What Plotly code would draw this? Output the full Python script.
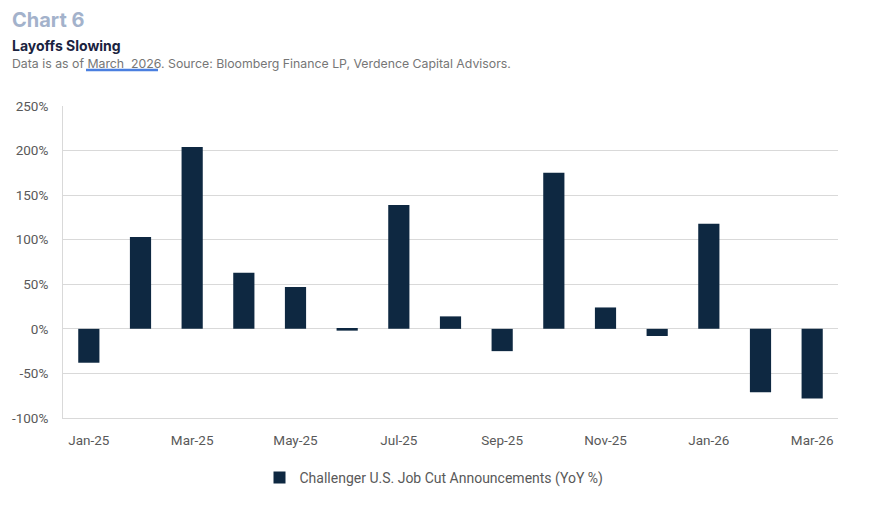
import plotly.graph_objects as go

months = ["Jan-25", "Feb-25", "Mar-25", "Apr-25", "May-25", "Jun-25", "Jul-25", "Aug-25",
          "Sep-25", "Oct-25", "Nov-25", "Dec-25", "Jan-26", "Feb-26", "Mar-26"]
yoy = [-38, 103, 204, 63, 47, -2, 139, 14, -25, 175, 24, -8, 118, -71, -78]
tick_labels = ["Jan-25", "Mar-25", "May-25", "Jul-25", "Sep-25", "Nov-25", "Jan-26", "Mar-26"]
y_ticks = [-100, -50, 0, 50, 100, 150, 200, 250]
y_tick_labels = ["-100%", "-50%", "0%", "50%", "100%", "150%", "200%", "250%"]
series_name = "Challenger U.S. Job Cut Announcements (YoY %)"

FONT = "Roboto, sans-serif"
NAVY = "#0e2841"

L, T, PW, PH = 63, 106, 775, 312


def px(x):
    return (x - L) / PW


def py(y):
    return 1 + (T - y) / PH


fig = go.Figure()
fig.add_trace(go.Bar(x=months, y=yoy, name=series_name, marker_color=NAVY,
                     marker_line_width=0, width=0.41))

fig.update_layout(
    width=888, height=519,
    margin=dict(l=L, r=888 - L - PW, t=T, b=519 - T - PH, autoexpand=False),
    paper_bgcolor="white", plot_bgcolor="white",
    font=dict(family=FONT, color="#595959", size=13),
    showlegend=True,
    legend=dict(orientation="h", x=px(434), xanchor="center", y=py(478), yanchor="middle",
                itemwidth=30, font=dict(family=FONT, size=14, color="#595959")),
    xaxis=dict(type="category", tickmode="array", tickvals=tick_labels, ticktext=tick_labels,
               showgrid=False, showline=True, linecolor="#d9d9d9", linewidth=1,
               ticks="", tickfont=dict(size=13.5), ticklabelstandoff=10),
    yaxis=dict(range=[-100, 250], tickmode="array", tickvals=y_ticks, ticktext=y_tick_labels,
               showgrid=True,
               gridcolor="#d9d9d9", gridwidth=1, zeroline=True, zerolinecolor="#d9d9d9",
               zerolinewidth=1, showline=True, linecolor="#d9d9d9", linewidth=1,
               ticks="", tickfont=dict(size=13.5), ticklabelstandoff=11),
    annotations=[
        dict(text="<b>Chart 6</b>", xref="paper", yref="paper", x=px(10), y=py(20),
             xanchor="left", yanchor="middle", showarrow=False,
             font=dict(family="Inter, sans-serif", size=20, color="#a3b2cb")),
        dict(text="<b>Layoffs Slowing</b>", xref="paper", yref="paper", x=px(10), y=py(45),
             xanchor="left", yanchor="middle", showarrow=False,
             font=dict(family="Inter, sans-serif", size=14, color="#1a2340")),
        dict(text="Data is as of March  2026. Source: Bloomberg Finance LP, Verdence Capital Advisors.",
             xref="paper", yref="paper", x=px(10), y=py(63),
             xanchor="left", yanchor="middle", showarrow=False,
             font=dict(family="Inter, sans-serif", size=12.3, color="#767676")),
    ],
    shapes=[
        dict(type="line", xref="paper", yref="paper", x0=px(86), x1=px(158),
             y0=py(70), y1=py(70), line=dict(color="#4a7fe0", width=2.5)),
    ],
)

fig.write_html("out.html", config={"displayModeBar": False},
               post_script="document.body.style.margin='0px';")
